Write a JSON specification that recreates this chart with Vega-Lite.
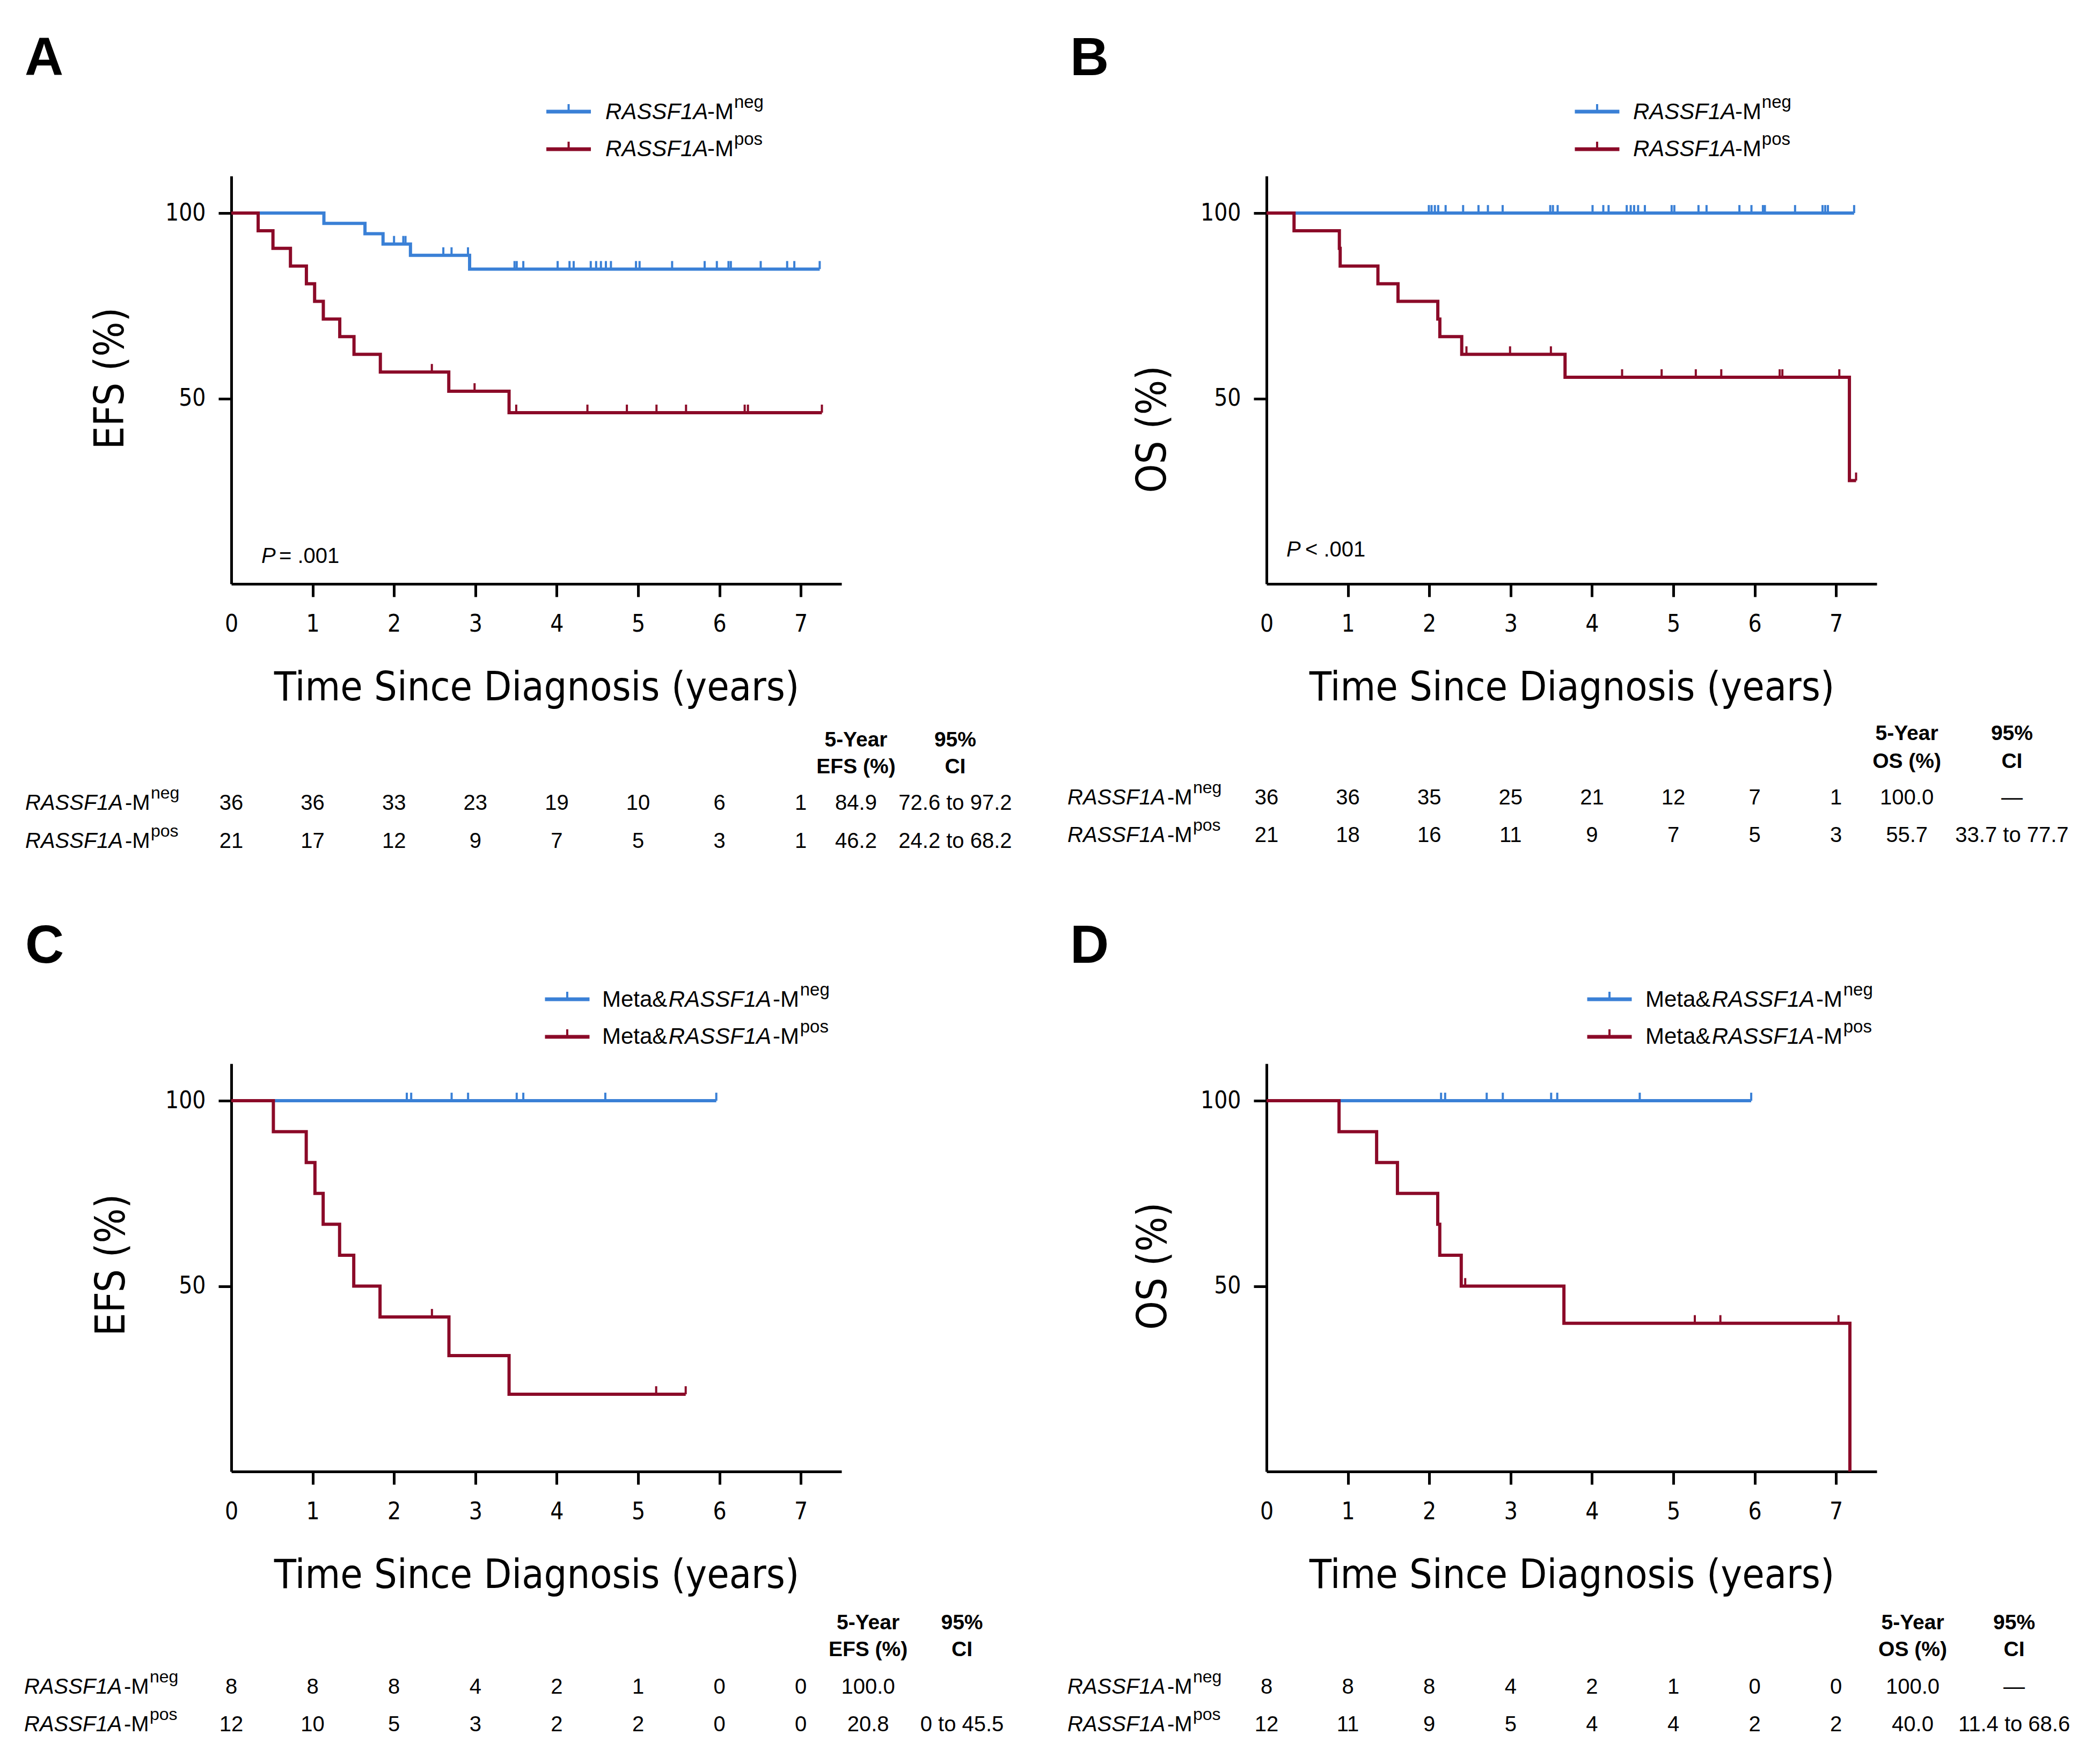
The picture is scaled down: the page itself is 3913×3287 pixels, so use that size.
{
"$schema": "https://vega.github.io/schema/vega-lite/v6.json",
"background": "white",
"padding": {"left": 45, "top": 59, "right": 10, "bottom": 10},
"data": {"values": [
{"p":"A","k":"c","g":"neg","t":0,"s":100},{"p":"A","k":"c","g":"neg","t":1.138,"s":97.22},{"p":"A","k":"c","g":"neg","t":1.643,"s":94.44},{"p":"A","k":"c","g":"neg","t":1.865,"s":91.67},{"p":"A","k":"c","g":"neg","t":2.202,"s":88.61},{"p":"A","k":"c","g":"neg","t":2.929,"s":84.9},{"p":"A","k":"c","g":"neg","t":7.232,"s":84.9},
{"p":"A","k":"c","g":"pos","t":0,"s":100},{"p":"A","k":"c","g":"pos","t":0.33,"s":95.24},{"p":"A","k":"c","g":"pos","t":0.512,"s":90.48},{"p":"A","k":"c","g":"pos","t":0.727,"s":85.71},{"p":"A","k":"c","g":"pos","t":0.923,"s":80.95},{"p":"A","k":"c","g":"pos","t":1.024,"s":76.19},{"p":"A","k":"c","g":"pos","t":1.131,"s":71.43},{"p":"A","k":"c","g":"pos","t":1.333,"s":66.67},{"p":"A","k":"c","g":"pos","t":1.508,"s":61.9},{"p":"A","k":"c","g":"pos","t":1.832,"s":57.14},{"p":"A","k":"c","g":"pos","t":2.673,"s":51.95},{"p":"A","k":"c","g":"pos","t":3.414,"s":46.18},{"p":"A","k":"c","g":"pos","t":7.259,"s":46.18},
{"p":"B","k":"c","g":"neg","t":0,"s":100},{"p":"B","k":"c","g":"neg","t":7.222,"s":100},
{"p":"B","k":"c","g":"pos","t":0,"s":100},{"p":"B","k":"c","g":"pos","t":0.338,"s":95.24},{"p":"B","k":"c","g":"pos","t":0.895,"s":90.48},{"p":"B","k":"c","g":"pos","t":0.905,"s":85.71},{"p":"B","k":"c","g":"pos","t":1.369,"s":80.95},{"p":"B","k":"c","g":"pos","t":1.616,"s":76.19},{"p":"B","k":"c","g":"pos","t":2.105,"s":71.43},{"p":"B","k":"c","g":"pos","t":2.13,"s":66.67},{"p":"B","k":"c","g":"pos","t":2.399,"s":61.9},{"p":"B","k":"c","g":"pos","t":3.669,"s":55.71},{"p":"B","k":"c","g":"pos","t":7.164,"s":27.86},{"p":"B","k":"c","g":"pos","t":7.246,"s":27.86},
{"p":"C","k":"c","g":"neg","t":0,"s":100},{"p":"C","k":"c","g":"neg","t":5.961,"s":100},
{"p":"C","k":"c","g":"pos","t":0,"s":100},{"p":"C","k":"c","g":"pos","t":0.517,"s":91.67},{"p":"C","k":"c","g":"pos","t":0.921,"s":83.33},{"p":"C","k":"c","g":"pos","t":1.028,"s":75},{"p":"C","k":"c","g":"pos","t":1.129,"s":66.67},{"p":"C","k":"c","g":"pos","t":1.331,"s":58.33},{"p":"C","k":"c","g":"pos","t":1.505,"s":50},{"p":"C","k":"c","g":"pos","t":1.828,"s":41.67},{"p":"C","k":"c","g":"pos","t":2.675,"s":31.25},{"p":"C","k":"c","g":"pos","t":3.414,"s":20.83},{"p":"C","k":"c","g":"pos","t":5.585,"s":20.83},
{"p":"D","k":"c","g":"neg","t":0,"s":100},{"p":"D","k":"c","g":"neg","t":5.957,"s":100},
{"p":"D","k":"c","g":"pos","t":0,"s":100},{"p":"D","k":"c","g":"pos","t":0.891,"s":91.67},{"p":"D","k":"c","g":"pos","t":1.353,"s":83.33},{"p":"D","k":"c","g":"pos","t":1.609,"s":75},{"p":"D","k":"c","g":"pos","t":2.104,"s":66.67},{"p":"D","k":"c","g":"pos","t":2.129,"s":58.33},{"p":"D","k":"c","g":"pos","t":2.393,"s":50},{"p":"D","k":"c","g":"pos","t":3.655,"s":40},{"p":"D","k":"c","g":"pos","t":7.17,"s":0},

{"p":"A","k":"x","g":"neg","t":2.0,"s":91.67},{"p":"A","k":"x","g":"neg","t":2.114,"s":91.67},{"p":"A","k":"x","g":"neg","t":2.141,"s":91.67},
{"p":"A","k":"x","g":"neg","t":2.606,"s":88.61},{"p":"A","k":"x","g":"neg","t":2.707,"s":88.61},{"p":"A","k":"x","g":"neg","t":2.909,"s":88.61},
{"p":"A","k":"x","g":"neg","t":3.481,"s":84.9},{"p":"A","k":"x","g":"neg","t":3.508,"s":84.9},{"p":"A","k":"x","g":"neg","t":3.589,"s":84.9},{"p":"A","k":"x","g":"neg","t":4.011,"s":84.9},{"p":"A","k":"x","g":"neg","t":4.157,"s":84.9},{"p":"A","k":"x","g":"neg","t":4.208,"s":84.9},{"p":"A","k":"x","g":"neg","t":4.418,"s":84.9},{"p":"A","k":"x","g":"neg","t":4.484,"s":84.9},{"p":"A","k":"x","g":"neg","t":4.543,"s":84.9},{"p":"A","k":"x","g":"neg","t":4.604,"s":84.9},{"p":"A","k":"x","g":"neg","t":4.666,"s":84.9},{"p":"A","k":"x","g":"neg","t":4.974,"s":84.9},{"p":"A","k":"x","g":"neg","t":5.018,"s":84.9},{"p":"A","k":"x","g":"neg","t":5.418,"s":84.9},{"p":"A","k":"x","g":"neg","t":5.818,"s":84.9},{"p":"A","k":"x","g":"neg","t":5.968,"s":84.9},{"p":"A","k":"x","g":"neg","t":6.111,"s":84.9},{"p":"A","k":"x","g":"neg","t":6.14,"s":84.9},{"p":"A","k":"x","g":"neg","t":6.507,"s":84.9},{"p":"A","k":"x","g":"neg","t":6.832,"s":84.9},{"p":"A","k":"x","g":"neg","t":6.92,"s":84.9},{"p":"A","k":"x","g":"neg","t":7.232,"s":84.9},
{"p":"A","k":"x","g":"pos","t":2.465,"s":57.14},{"p":"A","k":"x","g":"pos","t":2.99,"s":51.95},{"p":"A","k":"x","g":"pos","t":3.502,"s":46.18},{"p":"A","k":"x","g":"pos","t":4.377,"s":46.18},{"p":"A","k":"x","g":"pos","t":4.862,"s":46.18},{"p":"A","k":"x","g":"pos","t":5.226,"s":46.18},{"p":"A","k":"x","g":"pos","t":5.589,"s":46.18},{"p":"A","k":"x","g":"pos","t":6.31,"s":46.18},{"p":"A","k":"x","g":"pos","t":6.35,"s":46.18},{"p":"A","k":"x","g":"pos","t":7.259,"s":46.18},
{"p":"B","k":"x","g":"neg","t":1.995,"s":100},{"p":"B","k":"x","g":"neg","t":2.028,"s":100},{"p":"B","k":"x","g":"neg","t":2.069,"s":100},{"p":"B","k":"x","g":"neg","t":2.11,"s":100},{"p":"B","k":"x","g":"neg","t":2.201,"s":100},{"p":"B","k":"x","g":"neg","t":2.416,"s":100},{"p":"B","k":"x","g":"neg","t":2.605,"s":100},{"p":"B","k":"x","g":"neg","t":2.721,"s":100},{"p":"B","k":"x","g":"neg","t":2.902,"s":100},{"p":"B","k":"x","g":"neg","t":3.487,"s":100},{"p":"B","k":"x","g":"neg","t":3.52,"s":100},{"p":"B","k":"x","g":"neg","t":3.578,"s":100},{"p":"B","k":"x","g":"neg","t":4.007,"s":100},{"p":"B","k":"x","g":"neg","t":4.139,"s":100},{"p":"B","k":"x","g":"neg","t":4.204,"s":100},{"p":"B","k":"x","g":"neg","t":4.427,"s":100},{"p":"B","k":"x","g":"neg","t":4.476,"s":100},{"p":"B","k":"x","g":"neg","t":4.518,"s":100},{"p":"B","k":"x","g":"neg","t":4.567,"s":100},{"p":"B","k":"x","g":"neg","t":4.65,"s":100},{"p":"B","k":"x","g":"neg","t":4.979,"s":100},{"p":"B","k":"x","g":"neg","t":5.012,"s":100},{"p":"B","k":"x","g":"neg","t":5.309,"s":100},{"p":"B","k":"x","g":"neg","t":5.408,"s":100},{"p":"B","k":"x","g":"neg","t":5.812,"s":100},{"p":"B","k":"x","g":"neg","t":5.96,"s":100},{"p":"B","k":"x","g":"neg","t":6.101,"s":100},{"p":"B","k":"x","g":"neg","t":6.125,"s":100},{"p":"B","k":"x","g":"neg","t":6.496,"s":100},{"p":"B","k":"x","g":"neg","t":6.834,"s":100},{"p":"B","k":"x","g":"neg","t":6.867,"s":100},{"p":"B","k":"x","g":"neg","t":6.9,"s":100},{"p":"B","k":"x","g":"neg","t":7.222,"s":100},
{"p":"B","k":"x","g":"pos","t":2.457,"s":61.9},{"p":"B","k":"x","g":"pos","t":2.993,"s":61.9},{"p":"B","k":"x","g":"pos","t":3.495,"s":61.9},{"p":"B","k":"x","g":"pos","t":4.37,"s":55.71},{"p":"B","k":"x","g":"pos","t":4.856,"s":55.71},{"p":"B","k":"x","g":"pos","t":5.276,"s":55.71},{"p":"B","k":"x","g":"pos","t":5.589,"s":55.71},{"p":"B","k":"x","g":"pos","t":6.307,"s":55.71},{"p":"B","k":"x","g":"pos","t":6.34,"s":55.71},{"p":"B","k":"x","g":"pos","t":7.04,"s":55.71},{"p":"B","k":"x","g":"pos","t":7.246,"s":27.86},
{"p":"C","k":"x","g":"neg","t":2.157,"s":100},{"p":"C","k":"x","g":"neg","t":2.211,"s":100},{"p":"C","k":"x","g":"neg","t":2.708,"s":100},{"p":"C","k":"x","g":"neg","t":2.91,"s":100},{"p":"C","k":"x","g":"neg","t":3.508,"s":100},{"p":"C","k":"x","g":"neg","t":3.589,"s":100},{"p":"C","k":"x","g":"neg","t":4.597,"s":100},{"p":"C","k":"x","g":"neg","t":5.961,"s":100},
{"p":"C","k":"x","g":"pos","t":2.466,"s":41.67},{"p":"C","k":"x","g":"pos","t":5.222,"s":20.83},{"p":"C","k":"x","g":"pos","t":5.585,"s":20.83},
{"p":"D","k":"x","g":"neg","t":2.145,"s":100},{"p":"D","k":"x","g":"neg","t":2.195,"s":100},{"p":"D","k":"x","g":"neg","t":2.706,"s":100},{"p":"D","k":"x","g":"neg","t":2.904,"s":100},{"p":"D","k":"x","g":"neg","t":3.498,"s":100},{"p":"D","k":"x","g":"neg","t":3.573,"s":100},{"p":"D","k":"x","g":"neg","t":4.587,"s":100},{"p":"D","k":"x","g":"neg","t":5.957,"s":100},
{"p":"D","k":"x","g":"pos","t":2.442,"s":50},{"p":"D","k":"x","g":"pos","t":5.264,"s":40},{"p":"D","k":"x","g":"pos","t":5.578,"s":40},{"p":"D","k":"x","g":"pos","t":7.03,"s":40},

{"p":"A","k":"sym","g":"neg","t":4.146,"s":127.37},{"p":"A","k":"sym","g":"pos","t":4.146,"s":117.24},
{"p":"B","k":"sym","g":"neg","t":4.063,"s":127.37},{"p":"B","k":"sym","g":"pos","t":4.063,"s":117.24},
{"p":"C","k":"sym","g":"neg","t":4.129,"s":127.37},{"p":"C","k":"sym","g":"pos","t":4.129,"s":117.24},
{"p":"D","k":"sym","g":"neg","t":4.215,"s":127.37},{"p":"D","k":"sym","g":"pos","t":4.215,"s":117.24},

{"p":"A","k":"li","t":4.598,"s":125.34,"l":"RASSF1A"},{"p":"A","k":"li","t":4.598,"s":115.36,"l":"RASSF1A"},
{"p":"A","k":"lu","t":5.851,"s":125.34,"l":"-M"},{"p":"A","k":"lu","t":5.851,"s":115.36,"l":"-M"},
{"p":"A","k":"ls","t":6.18,"s":125.34,"l":"neg"},{"p":"A","k":"ls","t":6.18,"s":115.36,"l":"pos"},
{"p":"B","k":"li","t":4.505,"s":125.34,"l":"RASSF1A"},{"p":"B","k":"li","t":4.505,"s":115.36,"l":"RASSF1A"},
{"p":"B","k":"lu","t":5.758,"s":125.34,"l":"-M"},{"p":"B","k":"lu","t":5.758,"s":115.36,"l":"-M"},
{"p":"B","k":"ls","t":6.087,"s":125.34,"l":"neg"},{"p":"B","k":"ls","t":6.087,"s":115.36,"l":"pos"},
{"p":"C","k":"lu","t":4.558,"s":125.34,"l":"Meta&"},{"p":"C","k":"lu","t":4.558,"s":115.36,"l":"Meta&"},
{"p":"C","k":"li","t":5.375,"s":125.34,"l":"RASSF1A"},{"p":"C","k":"li","t":5.375,"s":115.36,"l":"RASSF1A"},
{"p":"C","k":"lu","t":6.655,"s":125.34,"l":"-M"},{"p":"C","k":"lu","t":6.655,"s":115.36,"l":"-M"},
{"p":"C","k":"ls","t":6.99,"s":125.34,"l":"neg"},{"p":"C","k":"ls","t":6.99,"s":115.36,"l":"pos"},
{"p":"D","k":"lu","t":4.657,"s":125.34,"l":"Meta&"},{"p":"D","k":"lu","t":4.657,"s":115.36,"l":"Meta&"},
{"p":"D","k":"li","t":5.474,"s":125.34,"l":"RASSF1A"},{"p":"D","k":"li","t":5.474,"s":115.36,"l":"RASSF1A"},
{"p":"D","k":"lu","t":6.754,"s":125.34,"l":"-M"},{"p":"D","k":"lu","t":6.754,"s":115.36,"l":"-M"},
{"p":"D","k":"ls","t":7.089,"s":125.34,"l":"neg"},{"p":"D","k":"ls","t":7.089,"s":115.36,"l":"pos"},

{"p":"A","k":"lt","t":-2.54,"s":137.2,"l":"A"},{"p":"B","k":"lt","t":-2.414,"s":137.2,"l":"B"},{"p":"C","k":"lt","t":-2.533,"s":137.2,"l":"C"},{"p":"D","k":"lt","t":-2.414,"s":137.2,"l":"D"},
{"p":"A","k":"yt","t":-1.478,"s":55.4,"l":"EFS (%)"},{"p":"B","k":"yt","t":-1.392,"s":41.7,"l":"OS (%)"},{"p":"C","k":"yt","t":-1.464,"s":55.7,"l":"EFS (%)"},{"p":"D","k":"yt","t":-1.385,"s":55.4,"l":"OS (%)"},
{"p":"A","k":"pi","t":0.369,"s":5.64,"l":"P"},{"p":"A","k":"pu","t":0.587,"s":5.64,"l":"= .001"},
{"p":"B","k":"pi","t":0.244,"s":7.38,"l":"P"},{"p":"B","k":"pu","t":0.475,"s":7.38,"l":"< .001"},

{"p":"A","k":"h","t":7.678,"s":-43.9,"l":"5-Year"},{"p":"A","k":"h","t":7.678,"s":-51.1,"l":"EFS (%)"},{"p":"A","k":"h","t":8.898,"s":-43.9,"l":"95%"},{"p":"A","k":"h","t":8.898,"s":-51.1,"l":"CI"},
{"p":"B","k":"h","t":7.87,"s":-42.1,"l":"5-Year"},{"p":"B","k":"h","t":7.87,"s":-49.6,"l":"OS (%)"},{"p":"B","k":"h","t":9.162,"s":-42.1,"l":"95%"},{"p":"B","k":"h","t":9.162,"s":-49.6,"l":"CI"},
{"p":"C","k":"h","t":7.827,"s":-42.5,"l":"5-Year"},{"p":"C","k":"h","t":7.827,"s":-49.8,"l":"EFS (%)"},{"p":"C","k":"h","t":8.981,"s":-42.5,"l":"95%"},{"p":"C","k":"h","t":8.981,"s":-49.8,"l":"CI"},
{"p":"D","k":"h","t":7.942,"s":-42.5,"l":"5-Year"},{"p":"D","k":"h","t":7.942,"s":-49.8,"l":"OS (%)"},{"p":"D","k":"h","t":9.189,"s":-42.5,"l":"95%"},{"p":"D","k":"h","t":9.189,"s":-49.8,"l":"CI"},

{"p":"A","k":"gi","t":-2.533,"s":-60.9,"l":"RASSF1A"},{"p":"A","k":"gu","t":-1.306,"s":-60.9,"l":"-M"},{"p":"A","k":"gs","t":-0.99,"s":-60.9,"l":"neg"},
{"p":"A","k":"gi","t":-2.533,"s":-71.2,"l":"RASSF1A"},{"p":"A","k":"gu","t":-1.306,"s":-71.2,"l":"-M"},{"p":"A","k":"gs","t":-0.99,"s":-71.2,"l":"pos"},
{"p":"B","k":"gi","t":-2.447,"s":-59.5,"l":"RASSF1A"},{"p":"B","k":"gu","t":-1.22,"s":-59.5,"l":"-M"},{"p":"B","k":"gs","t":-0.904,"s":-59.5,"l":"neg"},
{"p":"B","k":"gi","t":-2.447,"s":-69.6,"l":"RASSF1A"},{"p":"B","k":"gu","t":-1.22,"s":-69.6,"l":"-M"},{"p":"B","k":"gs","t":-0.904,"s":-69.6,"l":"pos"},
{"p":"C","k":"gi","t":-2.546,"s":-59.9,"l":"RASSF1A"},{"p":"C","k":"gu","t":-1.319,"s":-59.9,"l":"-M"},{"p":"C","k":"gs","t":-1.003,"s":-59.9,"l":"neg"},
{"p":"C","k":"gi","t":-2.546,"s":-70.0,"l":"RASSF1A"},{"p":"C","k":"gu","t":-1.319,"s":-70.0,"l":"-M"},{"p":"C","k":"gs","t":-1.003,"s":-70.0,"l":"pos"},
{"p":"D","k":"gi","t":-2.447,"s":-59.9,"l":"RASSF1A"},{"p":"D","k":"gu","t":-1.22,"s":-59.9,"l":"-M"},{"p":"D","k":"gs","t":-0.904,"s":-59.9,"l":"neg"},
{"p":"D","k":"gi","t":-2.447,"s":-70.0,"l":"RASSF1A"},{"p":"D","k":"gu","t":-1.22,"s":-70.0,"l":"-M"},{"p":"D","k":"gs","t":-0.904,"s":-70.0,"l":"pos"},

{"p":"A","k":"n","t":0,"s":-60.9,"l":"36"},{"p":"A","k":"n","t":1,"s":-60.9,"l":"36"},{"p":"A","k":"n","t":2,"s":-60.9,"l":"33"},{"p":"A","k":"n","t":3,"s":-60.9,"l":"23"},{"p":"A","k":"n","t":4,"s":-60.9,"l":"19"},{"p":"A","k":"n","t":5,"s":-60.9,"l":"10"},{"p":"A","k":"n","t":6,"s":-60.9,"l":"6"},{"p":"A","k":"n","t":7,"s":-60.9,"l":"1"},{"p":"A","k":"n","t":7.678,"s":-60.9,"l":"84.9"},{"p":"A","k":"n","t":8.898,"s":-60.9,"l":"72.6 to 97.2"},
{"p":"A","k":"n","t":0,"s":-71.2,"l":"21"},{"p":"A","k":"n","t":1,"s":-71.2,"l":"17"},{"p":"A","k":"n","t":2,"s":-71.2,"l":"12"},{"p":"A","k":"n","t":3,"s":-71.2,"l":"9"},{"p":"A","k":"n","t":4,"s":-71.2,"l":"7"},{"p":"A","k":"n","t":5,"s":-71.2,"l":"5"},{"p":"A","k":"n","t":6,"s":-71.2,"l":"3"},{"p":"A","k":"n","t":7,"s":-71.2,"l":"1"},{"p":"A","k":"n","t":7.678,"s":-71.2,"l":"46.2"},{"p":"A","k":"n","t":8.898,"s":-71.2,"l":"24.2 to 68.2"},
{"p":"B","k":"n","t":0,"s":-59.5,"l":"36"},{"p":"B","k":"n","t":1,"s":-59.5,"l":"36"},{"p":"B","k":"n","t":2,"s":-59.5,"l":"35"},{"p":"B","k":"n","t":3,"s":-59.5,"l":"25"},{"p":"B","k":"n","t":4,"s":-59.5,"l":"21"},{"p":"B","k":"n","t":5,"s":-59.5,"l":"12"},{"p":"B","k":"n","t":6,"s":-59.5,"l":"7"},{"p":"B","k":"n","t":7,"s":-59.5,"l":"1"},{"p":"B","k":"n","t":7.87,"s":-59.5,"l":"100.0"},{"p":"B","k":"n","t":9.162,"s":-59.5,"l":"—"},
{"p":"B","k":"n","t":0,"s":-69.6,"l":"21"},{"p":"B","k":"n","t":1,"s":-69.6,"l":"18"},{"p":"B","k":"n","t":2,"s":-69.6,"l":"16"},{"p":"B","k":"n","t":3,"s":-69.6,"l":"11"},{"p":"B","k":"n","t":4,"s":-69.6,"l":"9"},{"p":"B","k":"n","t":5,"s":-69.6,"l":"7"},{"p":"B","k":"n","t":6,"s":-69.6,"l":"5"},{"p":"B","k":"n","t":7,"s":-69.6,"l":"3"},{"p":"B","k":"n","t":7.87,"s":-69.6,"l":"55.7"},{"p":"B","k":"n","t":9.162,"s":-69.6,"l":"33.7 to 77.7"},
{"p":"C","k":"n","t":0,"s":-59.9,"l":"8"},{"p":"C","k":"n","t":1,"s":-59.9,"l":"8"},{"p":"C","k":"n","t":2,"s":-59.9,"l":"8"},{"p":"C","k":"n","t":3,"s":-59.9,"l":"4"},{"p":"C","k":"n","t":4,"s":-59.9,"l":"2"},{"p":"C","k":"n","t":5,"s":-59.9,"l":"1"},{"p":"C","k":"n","t":6,"s":-59.9,"l":"0"},{"p":"C","k":"n","t":7,"s":-59.9,"l":"0"},{"p":"C","k":"n","t":7.827,"s":-59.9,"l":"100.0"},
{"p":"C","k":"n","t":0,"s":-70.0,"l":"12"},{"p":"C","k":"n","t":1,"s":-70.0,"l":"10"},{"p":"C","k":"n","t":2,"s":-70.0,"l":"5"},{"p":"C","k":"n","t":3,"s":-70.0,"l":"3"},{"p":"C","k":"n","t":4,"s":-70.0,"l":"2"},{"p":"C","k":"n","t":5,"s":-70.0,"l":"2"},{"p":"C","k":"n","t":6,"s":-70.0,"l":"0"},{"p":"C","k":"n","t":7,"s":-70.0,"l":"0"},{"p":"C","k":"n","t":7.827,"s":-70.0,"l":"20.8"},{"p":"C","k":"n","t":8.981,"s":-70.0,"l":"0 to 45.5"},
{"p":"D","k":"n","t":0,"s":-59.9,"l":"8"},{"p":"D","k":"n","t":1,"s":-59.9,"l":"8"},{"p":"D","k":"n","t":2,"s":-59.9,"l":"8"},{"p":"D","k":"n","t":3,"s":-59.9,"l":"4"},{"p":"D","k":"n","t":4,"s":-59.9,"l":"2"},{"p":"D","k":"n","t":5,"s":-59.9,"l":"1"},{"p":"D","k":"n","t":6,"s":-59.9,"l":"0"},{"p":"D","k":"n","t":7,"s":-59.9,"l":"0"},{"p":"D","k":"n","t":7.942,"s":-59.9,"l":"100.0"},{"p":"D","k":"n","t":9.189,"s":-59.9,"l":"—"},
{"p":"D","k":"n","t":0,"s":-70.0,"l":"12"},{"p":"D","k":"n","t":1,"s":-70.0,"l":"11"},{"p":"D","k":"n","t":2,"s":-70.0,"l":"9"},{"p":"D","k":"n","t":3,"s":-70.0,"l":"5"},{"p":"D","k":"n","t":4,"s":-70.0,"l":"4"},{"p":"D","k":"n","t":5,"s":-70.0,"l":"4"},{"p":"D","k":"n","t":6,"s":-70.0,"l":"2"},{"p":"D","k":"n","t":7,"s":-70.0,"l":"2"},{"p":"D","k":"n","t":7.942,"s":-70.0,"l":"40.0"},{"p":"D","k":"n","t":9.189,"s":-70.0,"l":"11.4 to 68.6"}
]},
"facet": {"field": "p", "type": "nominal", "title": null, "header": {"labels": false, "labelExpr": "''", "labelFontSize": 1, "labelColor": "white", "title": null, "labelPadding": 0, "titlePadding": 0}},
"columns": 2,
"spacing": {"row": 894, "column": 792},
"bounds": "flush",
"resolve": {"axis": {"x": "independent", "y": "independent"}},
"spec": {
"width": 1137,
"height": 760,
"encoding": {
  "x": {"field": "t", "type": "quantitative", "scale": {"domain": [0, 7.5], "nice": false, "zero": false},
   "axis": {"values": [0,1,2,3,4,5,6,7], "format": "d", "title": "Time Since Diagnosis (years)",
    "tickOpacity": {"condition": {"test": "datum.value == 0", "value": 0}, "value": 1}}},
  "y": {"field": "s", "type": "quantitative", "scale": {"domain": [0, 110], "nice": false, "zero": false},
   "axis": {"values": [50, 100], "title": null}}
},
"layer": [
{"transform": [{"filter": "datum.k == 'c'"}],
 "mark": {"type": "line", "interpolate": "step-after", "strokeWidth": 6},
 "encoding": {
  "color": {"field": "g", "type": "nominal", "scale": {"domain": ["neg", "pos"], "range": ["#3A80D6", "#8B0A28"]}, "legend": null}
 }},
{"transform": [{"filter": "datum.k == 'x'"}],
 "mark": {"type": "point", "shape": "M0,0V-1", "size": 900, "filled": false, "strokeWidth": 4, "opacity": 1},
 "encoding": {
  "color": {"field": "g", "type": "nominal", "scale": {"domain": ["neg", "pos"], "range": ["#3A80D6", "#8B0A28"]}, "legend": null}
 }},
{"transform": [{"filter": "datum.k == 'sym'"}],
 "mark": {"type": "point", "shape": "M-1,0H1", "size": 6889, "filled": false, "strokeWidth": 7, "opacity": 1},
 "encoding": {
  "color": {"field": "g", "type": "nominal", "scale": {"domain": ["neg", "pos"], "range": ["#3A80D6", "#8B0A28"]}, "legend": null}
 }},
{"transform": [{"filter": "datum.k == 'sym'"}],
 "mark": {"type": "point", "shape": "M0,0V-1", "size": 784, "filled": false, "strokeWidth": 4, "opacity": 1},
 "encoding": {
  "color": {"field": "g", "type": "nominal", "scale": {"domain": ["neg", "pos"], "range": ["#3A80D6", "#8B0A28"]}, "legend": null}
 }},
{"transform": [{"filter": "datum.k == 'lt'"}],
 "mark": {"type": "text", "align": "left", "baseline": "alphabetic", "font": "Liberation Sans, Arial, sans-serif", "fontWeight": "bold", "fontSize": 100, "color": "#000"},
 "encoding": {"text": {"field": "l"}}},
{"transform": [{"filter": "datum.k == 'yt'"}],
 "mark": {"type": "text", "align": "center", "baseline": "middle", "angle": 270, "font": "DejaVu Sans Condensed, Liberation Sans Narrow, sans-serif", "fontSize": 76, "color": "#000"},
 "encoding": {"text": {"field": "l"}}},
{"transform": [{"filter": "datum.k == 'pi'"}],
 "mark": {"type": "text", "align": "left", "baseline": "alphabetic", "font": "Liberation Sans, Arial, sans-serif", "fontStyle": "italic", "fontSize": 40, "color": "#000"},
 "encoding": {"text": {"field": "l"}}},
{"transform": [{"filter": "datum.k == 'pu'"}],
 "mark": {"type": "text", "align": "left", "baseline": "alphabetic", "font": "Liberation Sans, Arial, sans-serif", "fontSize": 40, "color": "#000"},
 "encoding": {"text": {"field": "l"}}},
{"transform": [{"filter": "datum.k == 'h'"}],
 "mark": {"type": "text", "align": "center", "baseline": "alphabetic", "font": "Liberation Sans, Arial, sans-serif", "fontWeight": "bold", "fontSize": 39, "color": "#000"},
 "encoding": {"text": {"field": "l"}}},
{"transform": [{"filter": "datum.k == 'n'"}],
 "mark": {"type": "text", "align": "center", "baseline": "alphabetic", "font": "Liberation Sans, Arial, sans-serif", "fontSize": 40, "color": "#000"},
 "encoding": {"text": {"field": "l"}}},
{"transform": [{"filter": "datum.k == 'gi'"}],
 "mark": {"type": "text", "align": "left", "baseline": "alphabetic", "font": "Liberation Sans, Arial, sans-serif", "fontStyle": "italic", "fontSize": 40, "color": "#000"},
 "encoding": {"text": {"field": "l"}}},
{"transform": [{"filter": "datum.k == 'gu'"}],
 "mark": {"type": "text", "align": "left", "baseline": "alphabetic", "font": "Liberation Sans, Arial, sans-serif", "fontSize": 40, "color": "#000"},
 "encoding": {"text": {"field": "l"}}},
{"transform": [{"filter": "datum.k == 'gs'"}],
 "mark": {"type": "text", "align": "left", "baseline": "alphabetic", "dy": -21, "font": "Liberation Sans, Arial, sans-serif", "fontSize": 32, "color": "#000"},
 "encoding": {"text": {"field": "l"}}},
{"transform": [{"filter": "datum.k == 'li'"}],
 "mark": {"type": "text", "align": "left", "baseline": "alphabetic", "font": "Liberation Sans, Arial, sans-serif", "fontStyle": "italic", "fontSize": 42, "color": "#000"},
 "encoding": {"text": {"field": "l"}}},
{"transform": [{"filter": "datum.k == 'lu'"}],
 "mark": {"type": "text", "align": "left", "baseline": "alphabetic", "font": "Liberation Sans, Arial, sans-serif", "fontSize": 42, "color": "#000"},
 "encoding": {"text": {"field": "l"}}},
{"transform": [{"filter": "datum.k == 'ls'"}],
 "mark": {"type": "text", "align": "left", "baseline": "alphabetic", "dy": -21, "font": "Liberation Sans, Arial, sans-serif", "fontSize": 33, "color": "#000"},
 "encoding": {"text": {"field": "l"}}}
]
},
"config": {
 "view": {"stroke": null},
 "header": {"labels": false, "labelFontSize": 1, "labelColor": "white", "labelPadding": 0, "titlePadding": 0},
 "axis": {"grid": false, "domainColor": "#000", "domainWidth": 5, "tickColor": "#000", "tickWidth": 5, "tickSize": 24,
  "labelFont": "DejaVu Sans Condensed, Liberation Sans Narrow, sans-serif", "labelFontSize": 44, "labelColor": "#000",
  "titleFont": "DejaVu Sans Condensed, Liberation Sans Narrow, sans-serif", "titleFontSize": 75, "titleFontWeight": "normal", "titleColor": "#000"},
 "axisX": {"labelPadding": 29, "titlePadding": 60, "labelFlush": false, "labelOverlap": false},
 "axisY": {"labelPadding": 24}
}
}
